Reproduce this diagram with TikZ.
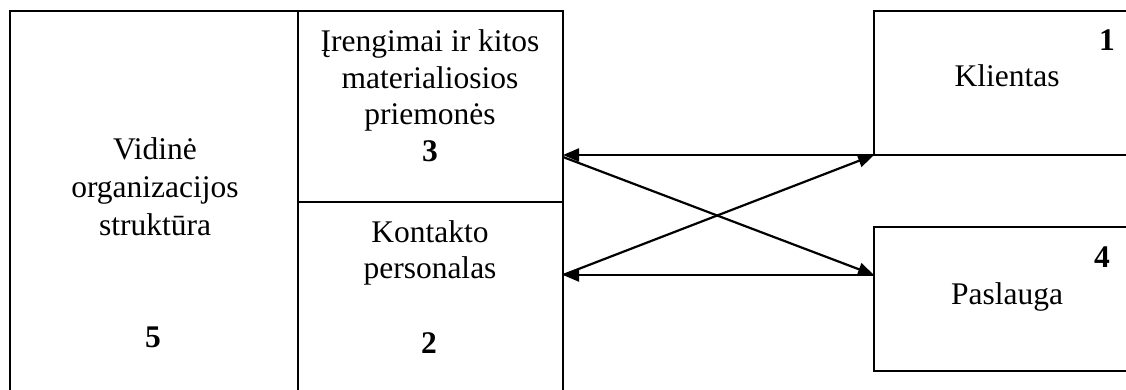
\documentclass[tikz,border=0pt]{standalone}
\usepackage{fontspec}
\setmainfont{Liberation Serif}
\usetikzlibrary{arrows.meta,calc}
\begin{document}
\begin{tikzpicture}[x=1pt,y=-1pt,
  box/.style={draw=black,line width=1.2pt,rectangle,inner sep=0pt,outer sep=0pt},
  txt/.style={inner sep=0pt,anchor=base,font=\fontsize{31.5}{37}\selectfont},
  num/.style={txt,font=\fontsize{31.5}{37}\selectfont\bfseries},
  arr/.style={line width=2.2pt,-{Triangle[length=16pt,width=13pt]}}]
\useasboundingbox (0,0) rectangle (1126,390);
\clip (0,0) rectangle (1126,390);
% boxes (the lower and right edges run past the page)
\node[box,minimum width=288pt,minimum height=381pt] (org) at (154,201.5) {};
\node[box,minimum width=265pt,minimum height=191pt] (mt) at (430.5,106.5) {};
\node[box,minimum width=265pt,minimum height=190pt] (mb) at (430.5,297) {};
\node[box,minimum width=266pt,minimum height=144pt] (kl) at (1007,83) {};
\node[box,minimum width=266pt,minimum height=144pt] (ps) at (1007,299) {};
% texts
\node[txt] (t5a) at (155,160) {Vidinė};
\node[txt] (t5b) at (155,197) {organizacijos};
\node[txt] (t5c) at (155,235) {struktūra};
\node[num] (n5) at (153,347) {5};
\node[txt] (t3a) at (430,52) {Įrengimai ir kitos};
\node[txt] (t3b) at (430,89) {materialiosios};
\node[txt] (t3c) at (430,125) {priemonės};
\node[num] (n3) at (430,162) {3};
\node[txt] (t2a) at (430,242) {Kontakto};
\node[txt] (t2b) at (430,278) {personalas};
\node[num] (n2) at (429,353) {2};
\node[num] (n1) at (1107,51) {1};
\node[txt] (t1) at (1007,87) {Klientas};
\node[num] (n4) at (1102,267) {4};
\node[txt] (t4) at (1007,304) {Paslauga};
% connectors
\coordinate (kin) at (kl.south west);
\coordinate (pin) at ([yshift=24pt]ps.west);
\coordinate (mtin) at (mt.east |- kin);
\coordinate (mbin) at (mb.east |- pin);
\draw[arr] (kin) -- (mtin);
\draw[arr] (pin) -- (mbin);
\draw[arr] ([yshift=-2pt]mtin) -- (pin);
\draw[arr] (mbin) -- (kin);
\end{tikzpicture}
\end{document}
